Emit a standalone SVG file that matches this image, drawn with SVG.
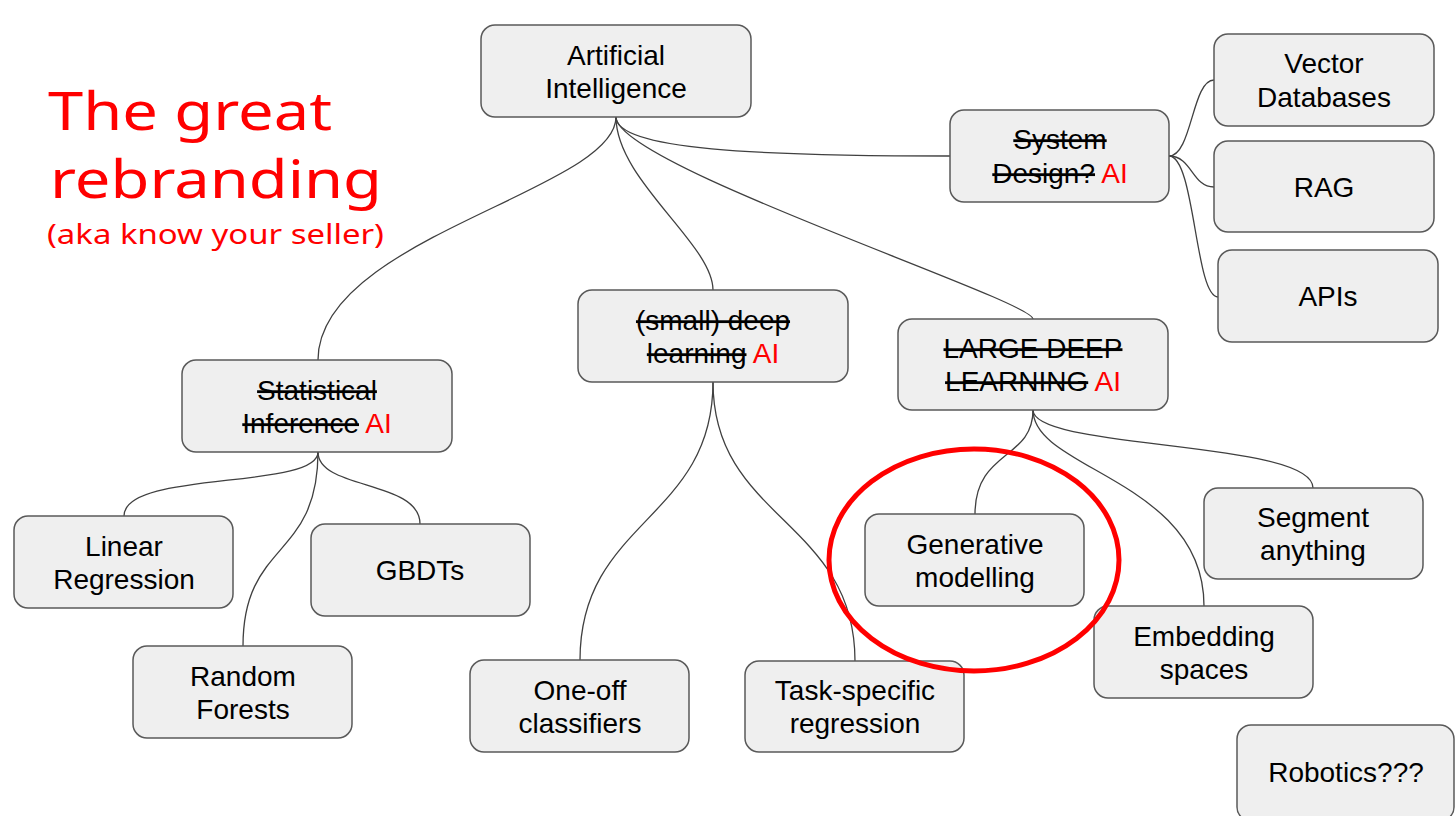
<svg xmlns="http://www.w3.org/2000/svg" width="1456" height="816" viewBox="0 0 1456 816">
<style>
.box{fill:#efefef;stroke:#595959;stroke-width:1.5}
.t{font-family:"Liberation Sans",Arial,sans-serif;font-size:28px;fill:#000;text-anchor:middle}
.s{text-decoration:line-through}
.r{fill:#ff0000}
.title{font-family:"Noto Sans","DejaVu Sans",sans-serif;fill:#ff0000}
.c{fill:none;stroke:#404040;stroke-width:1.3}
</style>
<rect width="1456" height="816" fill="#ffffff"/>
<g id="title">
<text class="title" x="48" y="130" font-size="52" textLength="284" lengthAdjust="spacingAndGlyphs">The great</text>
<text class="title" x="50" y="198" font-size="53" textLength="332" lengthAdjust="spacingAndGlyphs">rebranding</text>
<text class="title" x="47" y="244" font-size="27" textLength="337" lengthAdjust="spacingAndGlyphs">(aka know your seller)</text>
</g>
<g id="connectors">
<path class="c" d="M616,117 C616,190 318,238 318,360"/>
<path class="c" d="M616,117 C616,180 713,244 713,290"/>
<path class="c" d="M616,117 C616,165 1033,300 1033,319"/>
<path class="c" d="M616,117 C616,150 760,156 950,156"/>
<path class="c" d="M1169,156 C1192,156 1192,80 1214,80"/>
<path class="c" d="M1169,156 C1192,156 1192,187 1214,187"/>
<path class="c" d="M1169,156 C1195,156 1195,297 1218,297"/>
<path class="c" d="M318,452 C318,490 124,470 124,516"/>
<path class="c" d="M318,452 C318,490 420,480 420,524"/>
<path class="c" d="M318,452 C318,560 243,540 243,646"/>
<path class="c" d="M713,382 C713,520 580,520 580,660"/>
<path class="c" d="M713,382 C713,520 855,520 855,661"/>
<path class="c" d="M1033,410 C1033,460 975,450 975,514"/>
<path class="c" d="M1033,410 C1033,470 1204,480 1204,606"/>
<path class="c" d="M1033,410 C1033,450 1313,440 1313,488"/>
</g>
<g id="ai"><rect class="box" x="481" y="25" width="270" height="92" rx="14"/>
<text class="t" x="616" y="65">Artificial</text><text class="t" x="616" y="98">Intelligence</text></g>
<g id="system"><rect class="box" x="950" y="110" width="219" height="92" rx="14"/>
<text class="t" x="1060" y="149"><tspan class="s">System</tspan></text>
<text class="t" x="1060" y="183"><tspan class="s">Design?</tspan> <tspan class="r">AI</tspan></text></g>
<g id="vector"><rect class="box" x="1214" y="34" width="220" height="92" rx="14"/>
<text class="t" x="1324" y="73">Vector</text><text class="t" x="1324" y="107">Databases</text></g>
<g id="rag"><rect class="box" x="1214" y="141" width="220" height="91" rx="14"/>
<text class="t" x="1324" y="197">RAG</text></g>
<g id="apis"><rect class="box" x="1218" y="250" width="220" height="92" rx="14"/>
<text class="t" x="1328" y="306">APIs</text></g>
<g id="smalldeep"><rect class="box" x="578" y="290" width="270" height="92" rx="14"/>
<text class="t" x="713" y="330"><tspan class="s">(small) deep</tspan></text>
<text class="t" x="713" y="363"><tspan class="s">learning</tspan> <tspan class="r">AI</tspan></text></g>
<g id="statistical"><rect class="box" x="182" y="360" width="270" height="92" rx="14"/>
<text class="t" x="317" y="400"><tspan class="s">Statistical</tspan></text>
<text class="t" x="317" y="433"><tspan class="s">Inference</tspan> <tspan class="r">AI</tspan></text></g>
<g id="largedeep"><rect class="box" x="898" y="319" width="270" height="91" rx="14"/>
<text class="t" x="1033" y="358"><tspan class="s">LARGE DEEP</tspan></text>
<text class="t" x="1033" y="391"><tspan class="s">LEARNING</tspan> <tspan class="r">AI</tspan></text></g>
<g id="linear"><rect class="box" x="14" y="516" width="219" height="92" rx="14"/>
<text class="t" x="124" y="556">Linear</text><text class="t" x="124" y="589">Regression</text></g>
<g id="gbdts"><rect class="box" x="311" y="524" width="219" height="92" rx="14"/>
<text class="t" x="420" y="580">GBDTs</text></g>
<g id="random"><rect class="box" x="133" y="646" width="219" height="92" rx="14"/>
<text class="t" x="243" y="686">Random</text><text class="t" x="243" y="719">Forests</text></g>
<g id="oneoff"><rect class="box" x="470" y="660" width="219" height="92" rx="14"/>
<text class="t" x="580" y="700">One-off</text><text class="t" x="580" y="733">classifiers</text></g>
<g id="task"><rect class="box" x="745" y="661" width="219" height="91" rx="14"/>
<text class="t" x="855" y="700">Task-specific</text><text class="t" x="855" y="733">regression</text></g>
<g id="generative"><rect class="box" x="865" y="514" width="219" height="92" rx="14"/>
<text class="t" x="975" y="554">Generative</text><text class="t" x="975" y="587">modelling</text></g>
<g id="segment"><rect class="box" x="1204" y="488" width="219" height="91" rx="14"/>
<text class="t" x="1313" y="527">Segment</text><text class="t" x="1313" y="560">anything</text></g>
<g id="embedding"><rect class="box" x="1094" y="606" width="219" height="92" rx="14"/>
<text class="t" x="1204" y="646">Embedding</text><text class="t" x="1204" y="679">spaces</text></g>
<g id="robotics"><rect class="box" x="1237" y="725" width="217" height="96" rx="14"/>
<text class="t" x="1346" y="782">Robotics???</text></g>
<g id="highlight"><ellipse cx="974" cy="560" rx="145" ry="111" fill="none" stroke="#ff0000" stroke-width="5"/></g>
</svg>
